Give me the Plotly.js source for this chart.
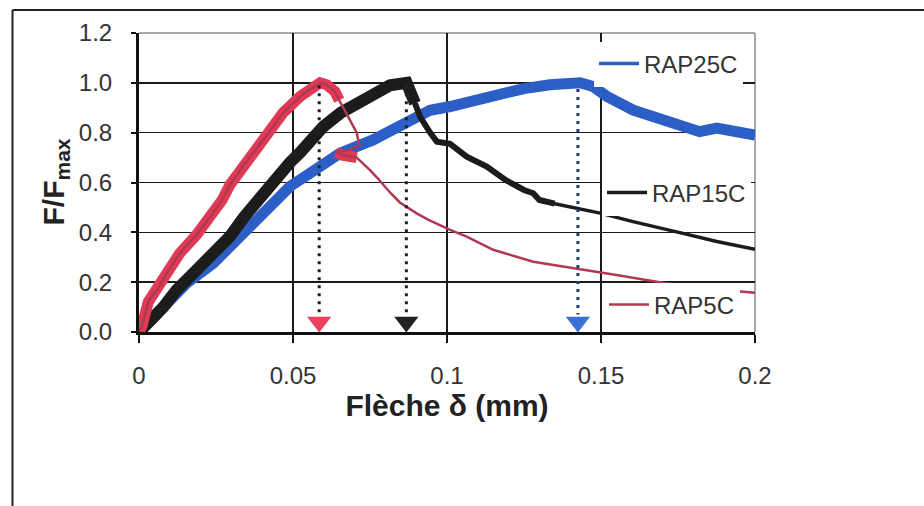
<!DOCTYPE html>
<html>
<head>
<meta charset="utf-8">
<script src="https://cdn.plot.ly/plotly-3.0.1.min.js"></script>
<style>
  html, body { margin: 0; padding: 0; background: #ffffff; }
  #chart { width: 924px; height: 506px; }
</style>
</head>
<body>
<div id="chart"></div>
<script>
// ---- Data ----
const seriesNames = ['RAP25C', 'RAP15C', 'RAP5C'];

// RAP25C (blue)
const blueX = [0, 0.004, 0.008, 0.012, 0.0155, 0.0241, 0.0317, 0.038, 0.0445, 0.049, 0.0555, 0.0653, 0.076, 0.0869, 0.0945, 0.101, 0.109, 0.117, 0.125, 0.1334, 0.1432, 0.1474, 0.152, 0.1605, 0.1713, 0.182, 0.1876, 0.193, 0.198, 0.2];
const blueY = [0, 0.05, 0.10, 0.15, 0.196, 0.276, 0.37, 0.45, 0.53, 0.584, 0.637, 0.718, 0.771, 0.838, 0.89, 0.905, 0.93, 0.958, 0.977, 0.992, 1.0, 0.985, 0.945, 0.89, 0.85, 0.804, 0.818, 0.81, 0.804, 0.79];

// RAP15C (black)
const blackX = [0, 0.001, 0.004, 0.0079, 0.0122, 0.0187, 0.0252, 0.0295, 0.034, 0.0385, 0.0445, 0.049, 0.0523, 0.0598, 0.0655, 0.0707, 0.076, 0.0815, 0.0869, 0.0885, 0.0896, 0.0912, 0.0945, 0.0967, 0.101, 0.1064, 0.1129, 0.119, 0.125, 0.128, 0.130, 0.135, 0.1497, 0.1604, 0.1766, 0.1876, 0.2];
const blackY = [0, 0.01, 0.05, 0.10, 0.169, 0.249, 0.33, 0.383, 0.46, 0.53, 0.62, 0.68, 0.72, 0.824, 0.88, 0.918, 0.958, 0.99, 1.0, 0.958, 0.918, 0.865, 0.80, 0.764, 0.755, 0.704, 0.664, 0.61, 0.57, 0.557, 0.53, 0.515, 0.477, 0.443, 0.396, 0.363, 0.332];

// RAP5C (red)
const redX = [0, 0.001, 0.003, 0.0045, 0.006, 0.009, 0.0133, 0.0187, 0.023, 0.027, 0.0295, 0.034, 0.0403, 0.0468, 0.0523, 0.0555, 0.0578, 0.0588, 0.061, 0.0636, 0.065, 0.068, 0.0707, 0.0715, 0.068, 0.064, 0.066, 0.0707, 0.075, 0.078, 0.0815, 0.0847, 0.090, 0.094, 0.101, 0.1064, 0.115, 0.128, 0.142, 0.155, 0.171, 0.1876, 0.2];
const redY = [0, 0.025, 0.12, 0.15, 0.17, 0.236, 0.317, 0.39, 0.46, 0.53, 0.59, 0.67, 0.77, 0.88, 0.945, 0.975, 0.99, 1.0, 0.992, 0.965, 0.93, 0.86, 0.80, 0.75, 0.728, 0.722, 0.71, 0.70, 0.65, 0.61, 0.56, 0.52, 0.477, 0.45, 0.41, 0.383, 0.33, 0.282, 0.256, 0.229, 0.196, 0.171, 0.158];

// Peak markers (dotted arrows)
const arrowX = [0.0585, 0.0868, 0.1425];
const arrowTop = [0.99, 0.99, 0.975];

// Axis ticks and titles
const xTickVals = [0, 0.05, 0.1, 0.15, 0.2];
const xTickText = ['0', '0.05', '0.1', '0.15', '0.2'];
const yTickVals = [0, 0.2, 0.4, 0.6, 0.8, 1.0, 1.2];
const yTickText = ['0.0', '0.2', '0.4', '0.6', '0.8', '1.0', '1.2'];
const xTitle = '<b>Flèche δ (mm)</b>';
const yTitle = '<b>F/F<sub>max</sub></b>';

// ---- Build traces ----
const FONT = 'Liberation Sans, Arial, Helvetica, sans-serif';
const cBlue = '#2c5fc6', cBlack = '#1c1c1c', cRed = '#e03a55', cRedThin = '#b03850';

function seg(xs, ys, a, b) { return { x: xs.slice(a, b + 1), y: ys.slice(a, b + 1) }; }
function idx(xs, ys, x, y) { for (let i = 0; i < xs.length; i++) if (xs[i] === x && ys[i] === y) return i; return -1; }

const traces = [];
// Blue
traces.push({ x: blueX, y: blueY, mode: 'lines', line: { color: cBlue, width: 11 }, showlegend: false, hoverinfo: 'skip' });
traces.push({ x: blueX, y: blueY, mode: 'lines', name: seriesNames[0], line: { color: cBlue, width: 3.5 }, legend: 'legend' });
// Black
const bRiseEnd = idx(blackX, blackY, 0.0896, 0.918);
const bMidEnd = idx(blackX, blackY, 0.135, 0.515);
const bRise = seg(blackX, blackY, 0, bRiseEnd);
const bMid = seg(blackX, blackY, bRiseEnd, bMidEnd);
traces.push({ x: bRise.x, y: bRise.y, mode: 'lines', line: { color: cBlack, width: 12 }, showlegend: false, hoverinfo: 'skip' });
traces.push({ x: bMid.x, y: bMid.y, mode: 'lines', line: { color: cBlack, width: 6 }, showlegend: false, hoverinfo: 'skip' });
traces.push({ x: blackX, y: blackY, mode: 'lines', name: seriesNames[1], line: { color: cBlack, width: 3.5 }, legend: 'legend2' });
// Red
const rRiseEnd = idx(redX, redY, 0.065, 0.93);
const rBlobA = idx(redX, redY, 0.064, 0.722);
const rBlobB = idx(redX, redY, 0.0707, 0.70);
const rRise = seg(redX, redY, 0, rRiseEnd);
const rBlob = seg(redX, redY, rBlobA, rBlobB);
traces.push({ x: rRise.x.concat([null], rBlob.x), y: rRise.y.concat([null], rBlob.y), mode: 'lines', line: { color: cRed, width: 11 }, showlegend: false, hoverinfo: 'skip', connectgaps: false });
traces.push({ x: redX, y: redY, mode: 'lines', name: seriesNames[2], line: { color: cRedThin, width: 2.5 }, legend: 'legend3' });

// Dotted arrows
const dotColors = ['#222222', '#222222', '#22377a'];
const headColors = ['#e8425c', '#222222', '#3a6fd8'];
const tipY = 0.04;
for (let i = 0; i < arrowX.length; i++) {
  traces.push({ x: [arrowX[i], arrowX[i]], y: [arrowTop[i], tipY + 0.03], mode: 'lines', line: { color: dotColors[i], width: 3, dash: '3px,5px' }, showlegend: false, hoverinfo: 'skip' });
  traces.push({ x: [arrowX[i]], y: [tipY], mode: 'markers', marker: { symbol: 'triangle-down', size: 21, color: headColors[i] }, showlegend: false, hoverinfo: 'skip' });
}

// ---- Layout ----
function pxToPaperX(px) { return (px - 139) / 616; }
function pxToPaperY(py) { return (332 - py) / 299; }

const legendBase = { xanchor: 'left', yanchor: 'middle', bgcolor: '#ffffff', borderwidth: 0, font: { family: FONT, size: 24, color: '#333333' }, itemwidth: 40, tracegroupgap: 0 };

const axisBase = {
  showgrid: true, gridcolor: '#1a1a1a', gridwidth: 1.5,
  showline: true, linecolor: '#111111', linewidth: 3,
  ticks: 'outside', tickcolor: '#111111', tickwidth: 2,
  zeroline: false, tickfont: { family: FONT, size: 24, color: '#333333' },
  fixedrange: true
};

const layout = {
  width: 924, height: 506,
  margin: { l: 139, r: 169, t: 33, b: 174, pad: 0 },
  paper_bgcolor: '#ffffff', plot_bgcolor: '#ffffff',
  showlegend: true,
  xaxis: Object.assign({}, axisBase, {
    range: [0, 0.2], tickmode: 'array', tickvals: xTickVals, ticktext: xTickText,
    ticklen: 8, ticklabelstandoff: 12,
    title: { text: xTitle, font: { family: FONT, size: 30, color: '#222222' }, standoff: 8 }
  }),
  yaxis: Object.assign({}, axisBase, {
    range: [0, 1.2], tickmode: 'array', tickvals: yTickVals, ticktext: yTickText,
    ticklen: 5, ticklabelstandoff: 14
  }),
  annotations: [
    { text: yTitle, xref: 'paper', yref: 'paper', x: pxToPaperX(55), y: 0.5, xanchor: 'center', yanchor: 'middle', textangle: -90, showarrow: false, font: { family: FONT, size: 30, color: '#222222' } }
  ],
  legend: Object.assign({}, legendBase, { x: pxToPaperX(594), y: pxToPaperY(64) }),
  legend2: Object.assign({}, legendBase, { x: pxToPaperX(602), y: pxToPaperY(193) }),
  legend3: Object.assign({}, legendBase, { x: pxToPaperX(604), y: pxToPaperY(305) }),
  shapes: [
    { type: 'line', xref: 'paper', yref: 'paper', x0: 0, x1: 1, y0: 1, y1: 1, line: { color: '#8a8a8a', width: 1.5 }, layer: 'below' },
    { type: 'line', xref: 'paper', yref: 'paper', x0: 1, x1: 1, y0: 0, y1: 1, line: { color: '#8a8a8a', width: 1.5 }, layer: 'below' },
    { type: 'line', xref: 'paper', yref: 'paper', x0: pxToPaperX(12.5), x1: pxToPaperX(930), y0: pxToPaperY(10), y1: pxToPaperY(10), line: { color: '#222222', width: 2 } },
    { type: 'line', xref: 'paper', yref: 'paper', x0: pxToPaperX(12.5), x1: pxToPaperX(12.5), y0: pxToPaperY(10), y1: pxToPaperY(520), line: { color: '#222222', width: 2 } }
  ]
};

Plotly.newPlot('chart', traces, layout, { staticPlot: true, displayModeBar: false });
</script>
</body>
</html>
